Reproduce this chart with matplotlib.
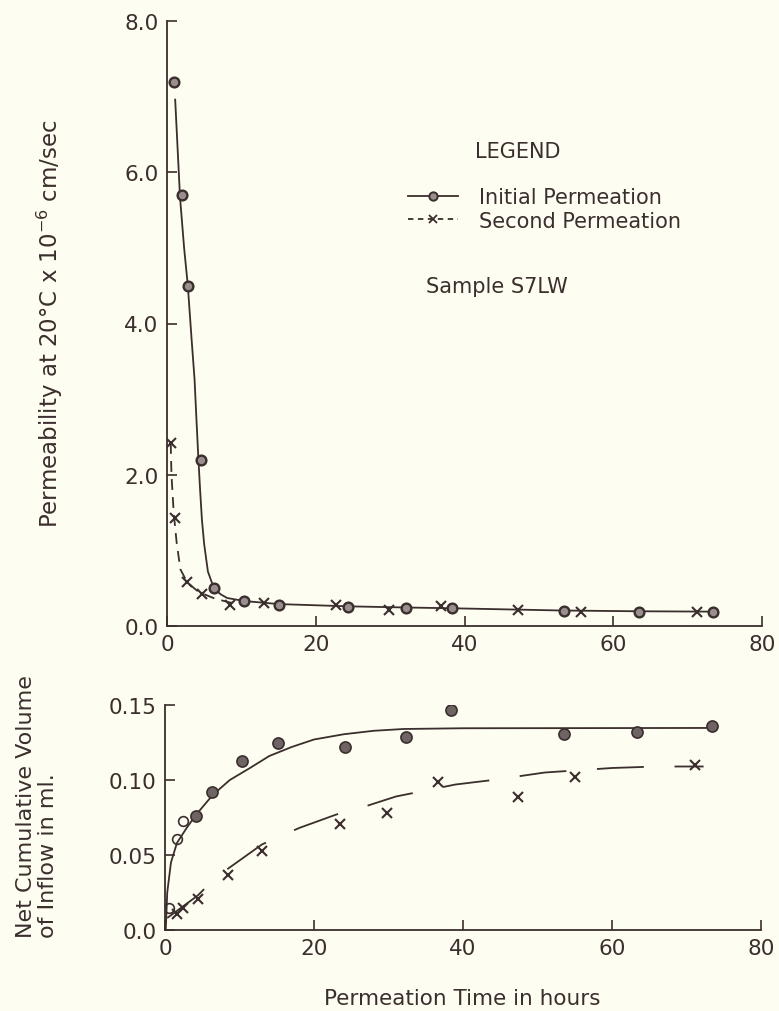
import matplotlib
matplotlib.use("Agg")
import matplotlib.pyplot as plt
from matplotlib.lines import Line2D

# ---------------- data ----------------
# Top panel: permeability (x 1e-6 cm/sec) vs time (hours)
init_perm_t = [1.0, 2.0, 2.8, 4.6, 6.3, 10.3, 15.0, 24.4, 32.1, 38.3, 53.4, 63.4, 73.4]
init_perm_k = [7.2, 5.7, 4.5, 2.2, 0.50, 0.33, 0.28, 0.25, 0.24, 0.24, 0.20, 0.19, 0.19]
init_perm_curve_t = [1.1, 1.75, 2.3, 2.8, 3.3, 3.7, 3.95, 4.2, 4.45, 4.7, 5.0, 5.5, 6.3, 7.2, 8.1, 10.4, 15.0, 24.4, 32.0, 38.0, 53.0, 63.0, 73.4]
init_perm_curve_k = [6.96, 5.67, 5.0, 4.5, 3.8, 3.27, 2.75, 2.25, 1.8, 1.4, 1.08, 0.72, 0.50, 0.42, 0.37, 0.33, 0.29, 0.26, 0.245, 0.235, 0.205, 0.195, 0.19]

second_perm_t = [0.5, 1.1, 2.7, 4.7, 8.5, 13.0, 22.7, 29.9, 36.8, 47.2, 55.6, 71.3]
second_perm_k = [2.42, 1.43, 0.58, 0.42, 0.28, 0.30, 0.28, 0.21, 0.26, 0.21, 0.19, 0.19]
second_perm_curve_t = [0.5, 0.6, 0.9, 1.3, 1.8, 2.7, 4.0, 5.0, 6.5, 8.5, 10.0]
second_perm_curve_k = [2.42, 2.0, 1.5, 1.1, 0.75, 0.58, 0.47, 0.42, 0.36, 0.31, 0.30]

# Bottom panel: net cumulative inflow (ml) vs time (hours)
init_vol_t = [0.5, 1.6, 2.4, 4.2, 6.3, 10.3, 15.2, 24.1, 32.3, 38.4, 53.5, 63.4, 73.4]
init_vol_v = [0.015, 0.061, 0.073, 0.076, 0.092, 0.113, 0.125, 0.122, 0.129, 0.147, 0.131, 0.132, 0.136]
init_vol_curve_t = [0.1, 0.3, 0.8, 1.6, 2.9, 4.2, 6.4, 8.7, 11.4, 14.0, 17.0, 20.0, 24.0, 28.0, 32.0, 40.0, 73.0]
init_vol_curve_v = [0.0, 0.025, 0.045, 0.058, 0.068, 0.077, 0.090, 0.100, 0.108, 0.116, 0.122, 0.127, 0.1305, 0.1328, 0.134, 0.1345, 0.1347]

second_vol_t = [1.6, 2.4, 4.4, 8.5, 13.0, 23.5, 29.8, 36.6, 47.4, 55.1, 71.2]
second_vol_v = [0.011, 0.015, 0.021, 0.037, 0.053, 0.071, 0.078, 0.099, 0.089, 0.102, 0.110]
second_vol_curve_t = [0.3, 4.4, 6.8, 13.0, 18.0, 23.0, 26.0, 31.0, 34.0, 39.0, 44.0, 51.0, 54.0, 60.0, 66.0, 72.3]
second_vol_curve_v = [0.008, 0.023, 0.035, 0.057, 0.068, 0.077, 0.081, 0.089, 0.092, 0.097, 0.100, 0.105, 0.106, 0.108, 0.109, 0.109]

x_ticks = [0, 20, 40, 60, 80]
top_yticks = [0.0, 2.0, 4.0, 6.0, 8.0]
bot_yticks = [0.0, 0.05, 0.10, 0.15]
top_ylabels = ["0.0", "2.0", "4.0", "6.0", "8.0"]
bot_ylabels = ["0.0", "0.05", "0.10", "0.15"]

# ---------------- style ----------------
INK = "#3b2e2e"
BG = "#fdfdf1"
plt.rcParams['font.family'] = ['DejaVu Sans']

fig = plt.figure(figsize=(7.79, 10.12), dpi=100, facecolor=BG)

W, H = 779.0, 1012.0
def axrect(x0, x1, ytop, ybot):
    return [x0 / W, 1 - ybot / H, (x1 - x0) / W, (ybot - ytop) / H]

ax1 = fig.add_axes(axrect(167, 762, 22, 627))
ax2 = fig.add_axes(axrect(165, 761, 706, 931))

for ax in (ax1, ax2):
    ax.set_facecolor(BG)
    for s in ("top", "right"):
        ax.spines[s].set_visible(False)
    for s in ("left", "bottom"):
        ax.spines[s].set_color(INK)
        ax.spines[s].set_linewidth(1.3)
    ax.tick_params(direction="in", length=7, width=1.2, colors=INK,
                   labelsize=15.5, pad=6)
    ax.set_xlim(0, 80)
    ax.set_xticks(x_ticks)
    ax.set_xticklabels([str(v) for v in x_ticks])

lw = 1.3

# Top panel
ax1.set_ylim(0, 8.0)
ax1.set_yticks(top_yticks)
ax1.set_yticklabels(top_ylabels)
ax1.plot(init_perm_curve_t, init_perm_curve_k, color=INK, lw=lw, zorder=2)
l2, = ax1.plot(second_perm_curve_t, second_perm_curve_k, color=INK, lw=lw, zorder=2)
l2.set_dashes((6, 4))
ax1.plot(init_perm_t, init_perm_k, linestyle="none", marker="o", markersize=7,
         markerfacecolor="#9a8f8f", markeredgecolor=INK, markeredgewidth=1.7, zorder=3)
ax1.plot(second_perm_t, second_perm_k, linestyle="none", marker="x", markersize=7,
         markeredgecolor=INK, markeredgewidth=1.5, zorder=3)
fig.text(50 / W, 1 - 324 / H, "Permeability at 20°C x 10$^{-6}$ cm/sec", rotation=90,
         fontsize=16.5, color=INK, va="center", ha="center")

# Legend
h1 = Line2D([], [], color=INK, lw=lw, marker="o", markersize=6,
            markerfacecolor="#9a8f8f", markeredgecolor=INK, markeredgewidth=1.4)
h2 = Line2D([], [], color=INK, lw=lw, marker="x", markersize=6,
            markeredgecolor=INK, markeredgewidth=1.3, dashes=(3, 2.5))
leg = fig.legend([h1, h2], ["Initial Permeation", "Second Permeation"],
                 loc="upper left", bbox_to_anchor=(398 / W, 1 - 178 / H),
                 frameon=False, fontsize=15, handlelength=2.4, handletextpad=1.0,
                 labelspacing=0.15, borderpad=0, labelcolor=INK)
fig.text(475 / W, 1 - 152 / H, "LEGEND", fontsize=15, color=INK, va="center", ha="left")
fig.text(497 / W, 1 - 287 / H, "Sample S7LW", fontsize=15, color=INK, va="center", ha="center")

# Bottom panel
ax2.set_ylim(0, 0.15)
ax2.set_yticks(bot_yticks)
ax2.set_yticklabels(bot_ylabels)
ax2.plot(init_vol_curve_t, init_vol_curve_v, color=INK, lw=lw, zorder=2)
l4, = ax2.plot(second_vol_curve_t, second_vol_curve_v, color=INK, lw=lw, zorder=2)
l4.set_dashes((26, 17))
ax2.plot(init_vol_t[:3], init_vol_v[:3], linestyle="none", marker="o", markersize=7,
         markerfacecolor="none", markeredgecolor=INK, markeredgewidth=1.2, zorder=3)
ax2.plot(init_vol_t[3:], init_vol_v[3:], linestyle="none", marker="o", markersize=8,
         markerfacecolor="#6e6464", markeredgecolor=INK, markeredgewidth=1.2, zorder=3)
ax2.plot(second_vol_t, second_vol_v, linestyle="none", marker="x", markersize=7,
         markeredgecolor=INK, markeredgewidth=1.5, zorder=3)
fig.text(462 / W, 1 - 999 / H, "Permeation Time in hours", fontsize=15.5, color=INK,
         va="center", ha="center")
fig.text(37 / W, 1 - 938 / H, "Net Cumulative Volume\nof Inflow in ml.", rotation=90,
         fontsize=16, color=INK, va="bottom", ha="center", multialignment="left",
         linespacing=1.1)

fig.savefig("out.png", dpi=100, facecolor=BG)
